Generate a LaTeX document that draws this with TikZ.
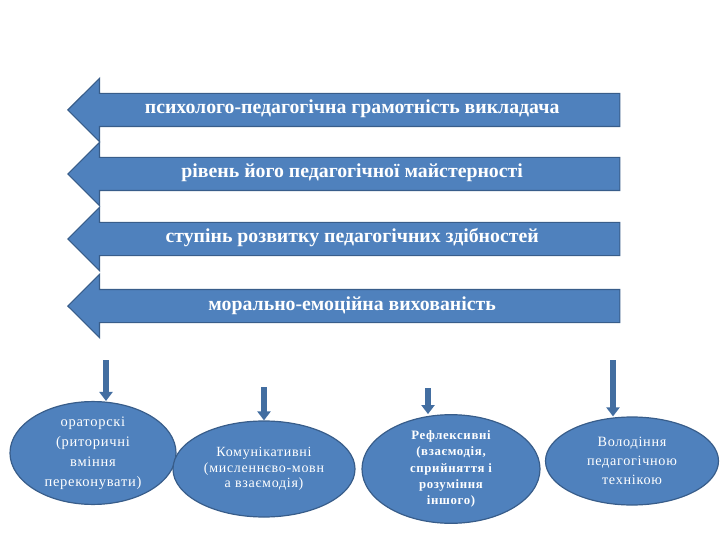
\documentclass[tikz,border=0pt]{standalone}
\usepackage{fontspec}
\setmainfont{Liberation Serif}
\newfontfamily\spacedfont[LetterSpace=5]{Liberation Serif}
\usetikzlibrary{shapes.arrows,shapes.geometric,arrows.meta}
\definecolor{boxfill}{HTML}{4F81BD}
\definecolor{boxline}{HTML}{385D8A}
\begin{document}
\begin{tikzpicture}[x=1pt,y=-1pt,
  bigarrow/.style={single arrow, shape border rotate=180, anchor=tip,
    fill=boxfill, draw=boxline, line width=1.2pt,
    minimum height=552pt, minimum width=62pt,
    single arrow head extend=15pt, single arrow tip angle=90,
    inner xsep=0pt, inner ysep=8pt, text height=12pt, text depth=4pt,
    text=white, font=\bfseries\fontsize{19.8}{20}\selectfont},
  oval/.style={ellipse, fill=boxfill, draw=boxline, line width=1.2pt,
    inner sep=0pt, align=center, text=white},
  downarrow/.style={draw=boxfill!85!black, line width=6pt,
    -{Triangle[width=13pt,length=9pt]}}]
  \useasboundingbox (0,0) rectangle (720,540);
  % four left arrows
  \foreach \n/\y/\txt in {1/110/{психолого-педагогічна грамотність викладача},
                          2/174/{рівень його педагогічної майстерності},
                          3/239/{ступінь розвитку педагогічних здібностей},
                          4/306/{морально-емоційна вихованість}} {
    \node[bigarrow] (a\n) at (67,\y) {\txt};
  }
  % skills
  \node[oval, minimum width=166pt, minimum height=94pt,
        font=\spacedfont\fontsize{14.5}{20}\selectfont] (e1) at (93,453)
    {ораторскі\\(риторичні\\вміння\\переконувати)};
  \node[oval, minimum width=182pt, minimum height=96pt,
        font=\spacedfont\fontsize{14}{15.5}\selectfont] (e2) at (264,469)
    {Комунікативні\\(мисленнєво-мовн\\а взаємодія)};
  \node[oval, minimum width=178pt, minimum height=96pt,
        font=\spacedfont\bfseries\fontsize{12.8}{16.3}\selectfont] (e3) at (451,469)
    {Рефлексивні\\(взаємодія,\\сприйняття і\\розуміння\\іншого)};
  \node[oval, minimum width=173pt, minimum height=88pt,
        font=\spacedfont\fontsize{14.2}{19}\selectfont] (e4) at (632,461)
    {Володіння\\педагогічною\\технікою};
  \foreach \n/\x/\y in {1/106/360, 2/264/387, 3/428/388, 4/613/360} {
    \coordinate (s\n) at (\x,\y);
    \draw[downarrow] (s\n) -- (s\n |- e\n.north);
  }
\end{tikzpicture}
\end{document}
